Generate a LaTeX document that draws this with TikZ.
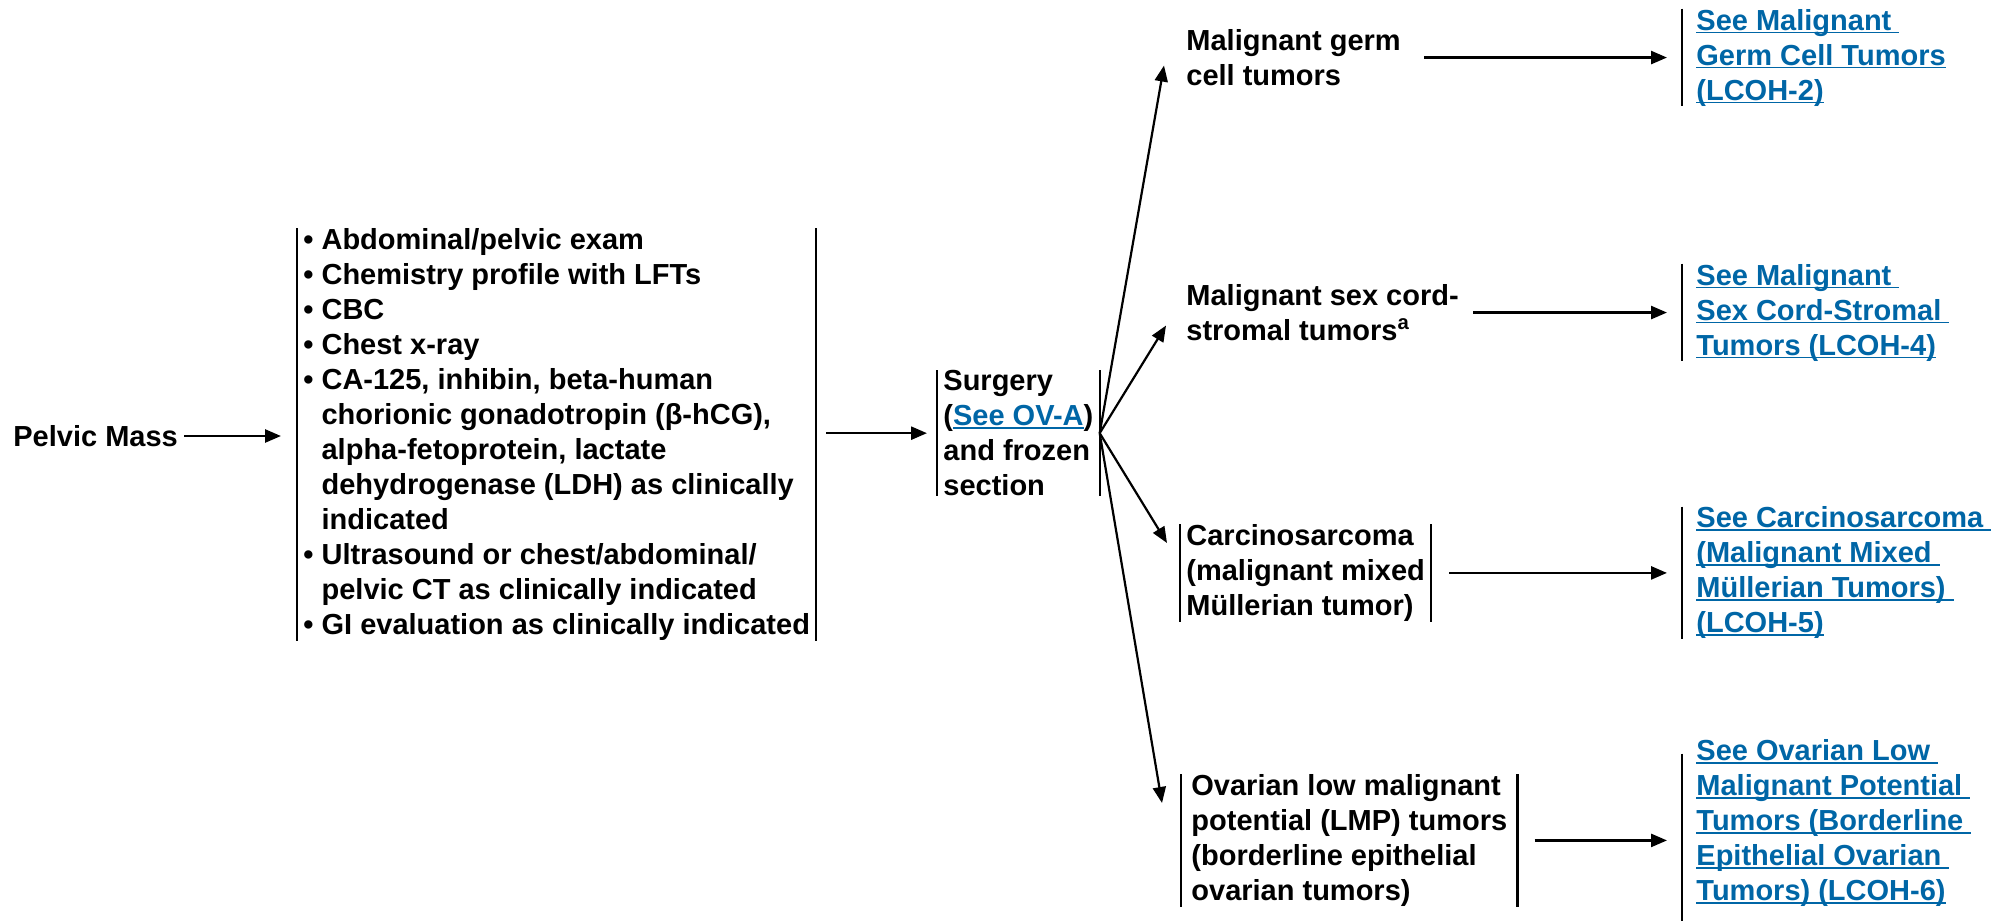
\documentclass[tikz,border=0pt]{standalone}
\usepackage{fontspec}
\setmainfont{Liberation Sans}
\usetikzlibrary{arrows.meta}
\definecolor{azullink}{RGB}{0,102,166}
\newcommand{\sublinhado}[1]{\setbox0=\hbox{#1}\rlap{\rule[-1.6pt]{\wd0}{0.85pt}}\box0}
\newcommand{\recuo}{\hphantom{\textbullet\ }}

\begin{document}
\begin{tikzpicture}
            [
                x=0.5pt, y=-0.5pt,
                texto/.style={inner xsep=3pt, inner ysep=0pt, align=left, font=\fontsize{14.5}{17.5}\selectfont\bfseries},
                elo/.style={texto, text=azullink, inner xsep=7pt},
                barra/.style={line width=1.1pt},
                seta/.style={line width=1.3pt, -{Triangle[length=8pt,width=6.5pt]}},
                leque/.style={line width=1.1pt, -{Triangle[length=8pt,width=6.5pt]}},
            ]
            %obs: coordenadas em pixels, y para baixo
            \useasboundingbox (0,0) rectangle (2011,920);
            \node[texto, anchor=west] (pelve) at (7,436) {Pelvic Mass};
            \node[texto, anchor=north west] (exames) at (297,228) {\textbullet\ Abdominal/pelvic exam\\
                \textbullet\ Chemistry profile with LFTs\\
                \textbullet\ CBC\\
                \textbullet\ Chest x-ray\\
                \textbullet\ CA-125, inhibin, beta-human\\
                \recuo chorionic gonadotropin (β-hCG),\\
                \recuo alpha-fetoprotein, lactate\\
                \recuo dehydrogenase (LDH) as clinically\\
                \recuo indicated\\
                \textbullet\ Ultrasound or chest/abdominal/\\
                \recuo pelvic CT as clinically indicated\\
                \textbullet\ GI evaluation as clinically indicated};
            \node[texto, anchor=north west] (cirurgia) at (937,370) {Surgery\\(\textcolor{azullink}{\sublinhado{See OV-A}})\\and frozen\\section};
            \node[texto, anchor=north west] (germ) at (1180,29) {Malignant germ\\cell tumors};
            \node[texto, anchor=north west] (cordao) at (1180,284) {Malignant sex cord-\\stromal tumors\textsuperscript{a}};
            \node[texto, anchor=north west] (carcino) at (1180,524) {Carcinosarcoma\\(malignant mixed\\Müllerian tumor)};
            \node[texto, anchor=north west, inner xsep=5pt] (lmp) at (1181,774) {Ovarian low malignant\\potential (LMP) tumors\\(borderline epithelial\\ovarian tumors)};

            \coordinate (coluna) at (1682,0);
            \node[elo, anchor=west] (elo1) at (germ.east -| coluna) {\sublinhado{See Malignant\ }\\\sublinhado{Germ Cell Tumors}\\\sublinhado{(LCOH-2)}};
            \node[elo, anchor=west] (elo2) at (cordao.east -| coluna) {\sublinhado{See Malignant\ }\\\sublinhado{Sex Cord-Stromal\ }\\\sublinhado{Tumors (LCOH-4)}};
            \node[elo, anchor=west] (elo3) at (carcino.east -| coluna) {\sublinhado{See Carcinosarcoma\ }\\\sublinhado{(Malignant Mixed\ }\\\sublinhado{Müllerian Tumors)\ }\\\sublinhado{(LCOH-5)}};
            \node[elo, anchor=west, yshift=8.5pt] (elo4) at (lmp.east -| coluna) {\sublinhado{See Ovarian Low\ }\\\sublinhado{Malignant Potential\ }\\\sublinhado{Tumors (Borderline\ }\\\sublinhado{Epithelial Ovarian\ }\\\sublinhado{Tumors) (LCOH-6)}};

            % barras
            \draw[barra] (exames.north west) -- (exames.south west) (exames.north east) -- (exames.south east);
            \draw[barra] (cirurgia.north west) -- (cirurgia.south west) (cirurgia.north east) -- (cirurgia.south east);
            \draw[barra] (carcino.north west) -- (carcino.south west) (carcino.north east) -- (carcino.south east);
            \draw[barra] (lmp.north west) -- (lmp.south west) (lmp.north east) -- (lmp.south east);
            \draw[barra] (elo1.north west) -- (elo1.south west);
            \draw[barra] (elo2.north west) -- (elo2.south west);
            \draw[barra] (elo3.north west) -- (elo3.south west);
            \draw[barra] ([yshift=-7pt]elo4.north west) -- ([yshift=-7pt]elo4.south west);

            % setas
            \draw[seta, shorten >=8pt] (pelve.east) -- (pelve.east -| exames.west);
            \draw[seta, shorten <=5pt, shorten >=5pt] (exames.east |- cirurgia.west) -- (cirurgia.west);
            \draw[leque] (cirurgia.east) -- ([xshift=-8pt,yshift=-4pt]germ.west);
            \draw[leque] (cirurgia.east) -- ([xshift=-7pt,yshift=-6.5pt]cordao.west);
            \draw[leque] (cirurgia.east) -- ([xshift=-6.5pt,yshift=-9.5pt]carcino.north west);
            \draw[leque] (cirurgia.east) -- ([xshift=-9.5pt,yshift=-14.5pt]lmp.north west);
            \draw[seta, shorten <=8.5pt, shorten >=7.5pt] (germ.east) -- (germ.east -| elo1.west);
            \draw[seta, shorten <=4pt, shorten >=7.5pt] (cordao.east) -- (cordao.east -| elo2.west);
            \draw[seta, shorten <=9pt, shorten >=7.5pt] (carcino.east) -- (carcino.east -| elo3.west);
            \draw[seta, shorten <=8.5pt, shorten >=7.5pt] (lmp.east) -- (lmp.east -| elo4.west);
        \end{tikzpicture}
\end{document}
